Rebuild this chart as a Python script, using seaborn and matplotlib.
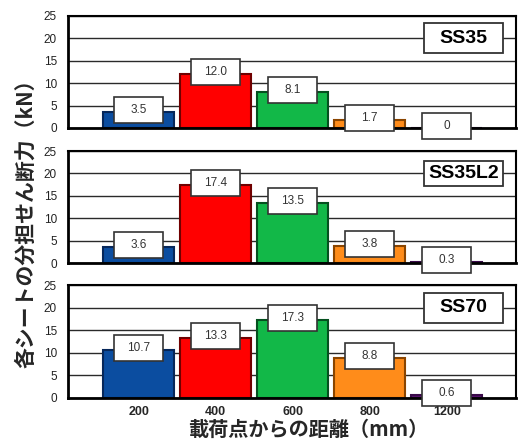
import numpy as np
import pandas as pd
import matplotlib
matplotlib.use("Agg")
import matplotlib.pyplot as plt
from matplotlib.patches import Rectangle
from matplotlib.transforms import ScaledTranslation
import seaborn as sns

# distance from loading point (mm)
distances = ["200", "400", "600", "800", "1200"]
# shear force carried by each sheet (kN)
specimens = ["SS35", "SS35L2", "SS70"]
ss35 = [3.5, 12.0, 8.1, 1.7, 0.0]
ss35l2 = [3.6, 17.4, 13.5, 3.8, 0.3]
ss70 = [10.7, 13.3, 17.3, 8.8, 0.6]
series = [ss35, ss35l2, ss70]
value_labels = [["3.5", "12.0", "8.1", "1.7", "0"],
                ["3.6", "17.4", "13.5", "3.8", "0.3"],
                ["10.7", "13.3", "17.3", "8.8", "0.6"]]
yticks = [0, 5, 10, 15, 20, 25]

fills = ["#0B4DA0", "#FF0000", "#12B848", "#FF8C1A", "#5A1470"]
edges = ["#06275A", "#700000", "#05501F", "#8A4500", "#3A0A4A"]

sns.set_theme(style="white")
plt.rcParams["font.family"] = ["Liberation Sans", "Noto Sans CJK JP", "DejaVu Sans"]

DPI = 100
fig = plt.figure(figsize=(5.25, 4.41), dpi=DPI)

left, right = 68 / 525, 516 / 525
panel_px = [(16, 128), (151, 263), (285, 398)]
tag_heights = [30, 25, 30]


def fixed_box(ax, x, y, w_px, h_px, lw, z, lift_px=0):
    """White box of fixed pixel size centred on a data point."""
    tr = fig.dpi_scale_trans + ScaledTranslation(x, y, ax.transData)
    r = Rectangle((-w_px / 2 / DPI, (lift_px - h_px / 2) / DPI),
                  w_px / DPI, h_px / DPI,
                  transform=tr, facecolor="white", edgecolor="#333333",
                  linewidth=lw, zorder=z, clip_on=False)
    ax.add_patch(r)
    return tr


axes = []
for i, (top, bot) in enumerate(panel_px):
    ax = fig.add_axes([left, 1 - bot / 441, right - left, (bot - top) / 441])
    axes.append(ax)
    df = pd.DataFrame({"distance": distances, "force": series[i]})
    sns.barplot(data=df, x="distance", y="force", hue="distance",
                palette=fills, legend=False, width=0.92, ax=ax,
                saturation=1, zorder=2)
    for patch, ec in zip(ax.patches, edges):
        patch.set_edgecolor(ec)
        patch.set_linewidth(1.5)

    ax.set_xlim(-0.92, 4.9)
    ax.set_ylim(0, 25)
    ax.set_yticks(yticks)
    ax.set_axisbelow(True)
    ax.yaxis.grid(True, color="#2a2a2a", linewidth=1.0)
    ax.xaxis.grid(False)
    ax.tick_params(axis="both", length=0)
    ax.tick_params(axis="y", labelsize=8.5, pad=8, labelcolor="#222222")
    for s in ax.spines.values():
        s.set_color("black")
        s.set_linewidth(1.5)
    ax.spines["left"].set_linewidth(2)
    ax.spines["bottom"].set_linewidth(2)
    ax.set_xlabel("")
    ax.set_ylabel("")

    # value boxes centred on each bar top
    for j, (v, lab) in enumerate(zip(series[i], value_labels[i])):
        tr = fixed_box(ax, j, v, 49, 26, 1.2, 5, lift_px=2)
        ax.text(0, 2 / DPI, lab, transform=tr, ha="center", va="center",
                fontsize=8.5, color="#333333", zorder=6)

    # specimen tag
    fixed_box(ax, 4.22, 20, 79, tag_heights[i], 1.3, 5)
    ax.text(4.22, 20, specimens[i], ha="center", va="center", fontsize=14,
            fontweight="bold", color="black", zorder=6)

    if i < 2:
        ax.set_xticklabels([])
    else:
        ax.tick_params(axis="x", labelsize=9, pad=6)
        for t in ax.get_xticklabels():
            t.set_fontweight("bold")

fig.text(26 / 525, 1 - 218 / 441, "各シートの分担せん断力（kN）", rotation=90,
         ha="center", va="center", fontsize=15, fontweight="bold",
         family=["Noto Sans CJK JP", "DejaVu Sans"])
fig.text(308 / 525, 1 - 429 / 441, "載荷点からの距離（mm）",
         ha="center", va="center", fontsize=14.5, fontweight="bold",
         family=["Noto Sans CJK JP", "DejaVu Sans"])

fig.savefig("out.png", dpi=DPI)
